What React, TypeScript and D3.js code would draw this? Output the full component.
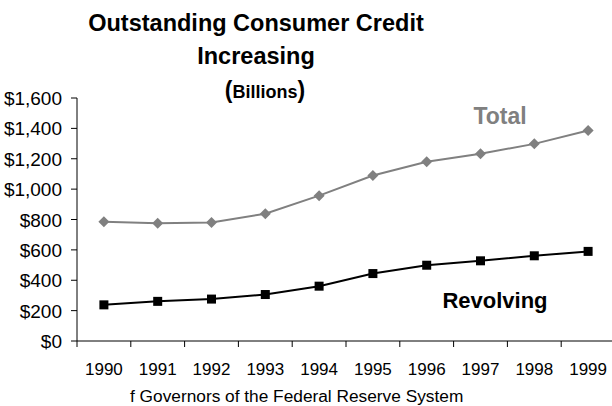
import React from "react";
import * as d3 from "d3";

const years = ["1990","1991","1992","1993","1994","1995","1996","1997","1998","1999"];
const totalValues = [785, 776, 780, 838, 957, 1090, 1180, 1233, 1298, 1386];
const revolvingValues = [238, 261, 276, 306, 361, 444, 499, 528, 561, 590];
const yTicks = [0, 200, 400, 600, 800, 1000, 1200, 1400, 1600];

const W = 612, H = 406;
const m = { left: 77, right: 615, top: 98, bottom: 341 };
const font = "'Liberation Sans', Arial, sans-serif";

export default function App() {
  const x = d3.scaleBand<string>().domain(years).range([m.left, m.right]);
  const y = d3.scaleLinear().domain([0, 1600]).range([m.bottom, m.top]);
  const cx = (yr: string) => (x(yr) ?? 0) + x.bandwidth() / 2;
  const line = d3.line<number>().x((_, i) => cx(years[i])).y(v => y(v));
  const fmt = (v: number) => "$" + d3.format(",")(v);
  const diamond = "M0,-5.5L5.5,0L0,5.5L-5.5,0Z";
  return (
    <svg width={W} height={H} style={{ position: "absolute", left: 0, top: 0, fontFamily: font }}>
      <rect width={W} height={H} fill="#fff" />
      <text x={256} y={31} textAnchor="middle" fontSize={23.5} fontWeight="bold">Outstanding Consumer Credit</text>
      <text x={256} y={64} textAnchor="middle" fontSize={23.5} fontWeight="bold">Increasing</text>
      <text x={265} y={98} textAnchor="middle" fontWeight="bold">
        <tspan fontSize={23}>(</tspan><tspan fontSize={18}>Billions</tspan><tspan fontSize={23}>)</tspan>
      </text>
      <line x1={m.left} x2={m.left} y1={m.top} y2={m.bottom} stroke="#000" />
      <line x1={m.left} x2={m.right} y1={m.bottom} y2={m.bottom} stroke="#000" />
      {yTicks.map(t => (
        <g key={t}>
          <line x1={m.left - 6} x2={m.left} y1={y(t)} y2={y(t)} stroke="#000" />
          <text x={62} y={y(t) + 7} textAnchor="end" fontSize={19}>{fmt(t)}</text>
        </g>
      ))}
      {years.map((yr) => (
        <g key={yr}>
          <line x1={(x(yr) ?? 0)} x2={(x(yr) ?? 0)} y1={m.bottom} y2={m.bottom + 6} stroke="#000" />
          <text x={cx(yr)} y={374.5} textAnchor="middle" fontSize={17}>{yr}</text>
        </g>
      ))}
      <path d={line(totalValues) ?? ""} fill="none" stroke="#808080" strokeWidth={2} />
      {totalValues.map((v, i) => (
        <path key={i} d={diamond} transform={`translate(${cx(years[i])},${y(v)})`} fill="#808080" />
      ))}
      <path d={line(revolvingValues) ?? ""} fill="none" stroke="#000" strokeWidth={2} />
      {revolvingValues.map((v, i) => (
        <rect key={i} x={cx(years[i]) - 4.5} y={y(v) - 4.5} width={9} height={9} fill="#000" />
      ))}
      <text x={500} y={124} textAnchor="middle" fontSize={23} fontWeight="bold" fill="#808080">Total</text>
      <text x={495} y={308} textAnchor="middle" fontSize={22} fontWeight="bold" fill="#000">Revolving</text>
      <text x={130} y={402} fontSize={17.3}>f Governors of the Federal Reserve System</text>
    </svg>
  );
}
